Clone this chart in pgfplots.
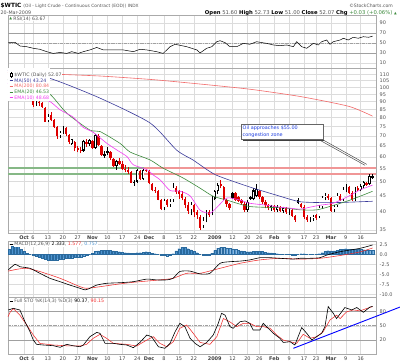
\documentclass[border=0pt]{standalone}
\usepackage{pgfplots}
\usepackage{pgfplotstable}
\pgfplotsset{compat=1.18}
\usepackage{fontspec}
\setmainfont{DejaVu Sans}

\definecolor{cred}{HTML}{DD0000}
\definecolor{ma50c}{HTML}{3A3A9A}
\definecolor{ma200c}{HTML}{F26A6A}
\definecolor{ema20c}{HTML}{3E8B3E}
\definecolor{ema10c}{HTML}{F23CF2}
\definecolor{gridc}{HTML}{DCDCDC}
\definecolor{framec}{HTML}{AAAAAA}
\definecolor{txt}{HTML}{555555}
\definecolor{histc}{HTML}{4D93CF}
\definecolor{histd}{HTML}{2A6A9E}
\definecolor{bandg}{HTML}{86B886}
\definecolor{bandr}{HTML}{F09696}
\definecolor{lvl}{HTML}{A0A0A0}
\definecolor{annb}{HTML}{1F3FE0}
\definecolor{sigc}{HTML}{F03030}

\newcommand{\fs}{\fontsize{5}{6}\selectfont}
\newcommand{\fl}{\fontsize{4.7}{5.5}\selectfont}

\pgfplotstableread{
i o h l c t
0 93 93.5 86.5 87.8 1
1 88 90.5 87.5 90.1 2
2 90 91 87 89 1
3 89 90 86 86.6 1
4 86 86.5 77.5 77.7 1
5 78 81.5 77.5 81.2 2
6 81.5 83.5 78 78.6 1
7 78.5 79 74 74.5 1
8 74.5 75 68.5 69.9 1
9 70 72.5 69 71.9 2
10 72 75 71 74.3 2
11 74 74.5 70 70.9 1
12 70.5 71 66 66.8 1
13 66.5 68.5 65.5 67.8 2
14 67 67.5 62.5 64.2 1
15 64 65 62 63.2 1
16 63 64.5 61.5 62.7 1
17 62.8 67.8 62.5 67.5 2
18 67 68.5 64.5 66 1
19 66 68.5 65 67.8 2
20 67.5 68 63.5 63.9 1
21 64 71 63.8 70.5 2
22 70 71 65 65.3 1
23 65 65.5 60.5 60.8 1
24 60.8 62.5 59.5 61 2
25 61.5 64.5 61 62.4 2
26 62 62.5 58.5 59.3 1
27 59 59.5 55.5 56.2 1
28 56 58.5 54.5 58.2 2
29 58 59.5 56.5 57 1
30 57 58 54.5 55 1
31 55 56.5 53.5 54.4 1
32 54.5 55.5 53 53.6 1
33 53.5 54 49.5 49.6 1
34 49.6 50.5 48.5 49.9 2
35 50 55 49.8 54.5 2
36 54 54.5 50.5 50.8 1
37 51 54.8 50.5 54.4 2
38 54.6 55 53.5 54.3 1
39 54 54.5 49 49.3 1
40 49 49.5 46.5 47 1
41 47 48 46 46.8 1
42 46.5 47 43.5 43.7 1
43 43.5 44 40.5 40.8 1
44 41 43.9 40.5 43.7 2
45 43.5 44 41.5 42.1 1
46 42 44 41.5 43.5 2
47 43.5 49.5 43.2 48 2
48 47.8 48.5 45.5 46.3 1
49 46.5 47 44 45.5 1
50 45.5 46.5 43.5 44.2 1
51 44 44.5 41 42 1
52 42 43 39.5 40.2 1
53 40.5 43 39 42.4 2
54 42 42.5 38.5 39.9 1
55 40 40.5 38 39 1
56 38.5 39 35 35.4 1
57 36 38.5 35.5 37.7 2
58 37.5 40.5 37 40 2
59 40 40.5 38.5 39 1
60 39.5 44.8 39 44.6 2
61 44.5 46.8 43.5 46.3 2
62 46.5 49.5 45.5 48.8 2
63 49 50.5 47.5 48.6 1
64 48 48.5 43.5 43.8 1
65 43.5 44 41.5 42.5 1
66 42.3 42.8 40.5 41.2 1
67 45.8 46.2 44 44.3 3
68 45.8 46.3 43.3 43.5 1
69 44.5 45 43 43.2 1
70 43.5 44 42.2 42.8 1
71 42.5 43 40 40.5 1
72 40.5 43.5 40 43 2
73 44.5 45 43.8 44 3
74 44 47.5 43.5 46.8 2
75 45 49 44.5 47.2 2
76 46.5 47 44 44.5 1
77 44.5 45 42.5 43 1
78 43 43.5 41 42 1
79 42 42.5 40.4 41 1
80 41 42.2 40.3 41.8 2
81 41.8 42 40 40.4 1
82 40.5 42 40 41.5 2
83 41.5 41.8 40 40.3 1
84 40.3 41.5 39.8 41.2 2
85 41 41.3 39.5 40 1
86 40 41 39.2 40.6 2
87 40.5 40.8 38.5 38.8 1
88 38.8 39.2 37.2 37.6 1
89 43.8 44.2 42.3 42.6 3
90 42.5 42.8 41 41.4 1
91 41.5 42 38 38.5 1
92 38.5 39 37.2 37.6 1
93 37.8 38.6 37 38.2 2
94 38 39.2 37.5 38.9 2
95 39 39.5 37.8 38.2 1
96 38.5 42 38.2 41.5 2
97 41.3 45 40.8 44.6 2
98 44.2 45.8 43.5 45.3 2
99 45 45.5 43.8 44.5 1
100 44.2 44.5 40 40.3 1
101 40.5 42 40 41.7 2
102 41.8 45.6 41.5 45.4 2
103 45 45.5 43.3 43.6 1
104 43.6 48 43.5 47.5 2
105 47 49.2 46.2 48.3 2
106 48 48.5 45.5 45.8 1
107 45.8 46.5 43.2 43.5 1
108 43.8 48 43.5 47.5 2
109 47.8 48.2 46.5 46.8 1
110 47 49 46.6 48.5 2
111 48.3 50 47.5 49.7 2
112 49.5 49.9 48.5 48.9 1
113 49 52.8 48.8 52.04 2
114 51.6 52.73 51 52.07 2
}\candles

\pgfplotstableread{
i h
-8 1.25
-7 2.0
-6 2.4
-5 2.1
-4 1.25
-3 0.7
-2 0.3
-1 0.0
0 -0.3
1 -0.55
2 -0.7
3 -1.0
4 -1.25
5 -1.4
6 -1.4
7 -1.4
8 -1.35
9 -1.25
10 -1.1
11 -1.05
12 -1.0
13 -0.85
14 -0.75
15 -0.7
16 -0.65
17 -0.4
18 -0.3
19 0.0
20 0.3
21 0.7
22 0.85
23 1.0
24 1.05
25 1.05
26 1.0
27 0.85
28 0.7
29 0.65
30 0.5
31 0.4
32 0.35
33 0.2
34 0.2
35 0.4
36 0.4
37 0.55
38 0.65
39 0.5
40 0.3
41 0.15
42 0.0
43 -0.2
44 -0.3
45 -0.35
46 -0.3
47 0.15
48 0.85
49 1.4
50 1.8
51 1.7
52 1.4
53 1.1
54 0.7
55 0.4
56 0.0
57 -0.15
58 -0.3
59 -0.3
60 0.3
61 1.0
62 1.55
63 1.8
64 1.75
65 1.6
66 1.45
67 1.35
68 1.2
69 1.0
70 0.85
71 0.7
72 0.65
73 0.65
74 0.7
75 0.75
76 0.75
77 0.7
78 0.55
79 0.4
80 0.35
81 0.2
82 0.15
83 0.07
84 0.0
85 -0.07
86 -0.07
87 -0.15
88 -0.2
89 0.0
90 0.15
91 0.15
92 0.0
93 -0.07
94 0.0
95 0.07
96 0.15
97 0.4
98 0.7
99 0.9
100 0.85
101 0.85
102 1.05
103 1.2
104 1.3
105 1.4
106 1.3
107 1.2
108 1.2
109 1.2
110 1.2
111 1.15
112 1.1
113 1.05
114 1.0
}\hist

\pgfplotsset{
  panel/.style={
    scale only axis, width=368bp,
    xmin=-8.39, xmax=115.14,
    axis line style={draw=framec, line width=0.6bp},
    major tick length=0pt, minor tick length=0pt,
    tick style={draw=none},
    xmajorgrids, ymajorgrids,
    major grid style={draw=gridc, line width=0.4bp},
    yticklabel pos=right,
    yticklabel style={font=\fs, text=txt, anchor=west, inner sep=0pt, xshift=3.5bp},
    xticklabel style={font=\fs, text=black!75, anchor=north, inner sep=0pt, yshift=-2.2bp},
    xtick={-3,0,5,10,15,20,25,30,35,39,44,49,54,61,67,72,76,81,86,91,95,100,105,110},
    xticklabels={},
    scaled y ticks=false,
  },
  datelabels/.style={xticklabels={\textbf{Oct},6,13,20,27,\textbf{Nov},10,17,24,\textbf{Dec},8,15,22,\textbf{2009},12,20,26,\textbf{Feb},9,17,23,\textbf{Mar},9,16}},
}

\begin{document}
\begin{tikzpicture}
\path[use as bounding box, fill=white] (0,0) rectangle (400bp,-363bp);

% ---------- RSI ----------
\begin{axis}[panel, at={(8bp,-15.5bp)}, anchor=north west, height=52.5bp,
  ymin=-0.4, ymax=105.4, ytick={10,30,50,70,90}, yticklabels={10,30,50,70,90}]
\draw[lvl, line width=0.5bp] (axis cs:-8.39,70) -- (axis cs:115.14,70);
\draw[lvl, line width=0.5bp] (axis cs:-8.39,30) -- (axis cs:115.14,30);
\draw[lvl, line width=0.5bp, dash pattern=on 3bp off 1bp on 0.8bp off 1bp] (axis cs:-8.39,50) -- (axis cs:115.14,50);
\addplot[black, line width=0.5bp] coordinates {(-8.3,50.6) (-6,51.4) (-4.4,44) (-2.1,42.5) (0.1,39.3) (2.3,37.3) (4.6,32.5) (6.8,29) (9.1,31) (11.3,29) (13,32.5) (15.2,29) (16.9,32.5) (19.1,36) (21.4,41) (23.6,36) (26.9,36) (30.3,36) (33.7,32.5) (35.9,37.3) (38.2,36) (41.5,32.5) (43.7,29) (46,42.5) (47.7,47.4) (51.6,42.5) (55,36) (56.1,30) (58.3,39.3) (60,42.5) (61.7,52.6) (62.8,54.6) (64.5,50.6) (66.1,42.5) (68.4,42.5) (70.6,49.3) (72.8,47.4) (75.1,52.6) (76.2,51.4) (78.4,49.3) (80.7,46) (82.9,44.6) (85.2,46) (87.4,42.5) (88.5,52.6) (90.2,42.5) (91.9,39.3) (94.1,49.3) (95.8,46) (96.9,52.6) (98.6,56) (99.7,47.4) (100.8,52.6) (103.1,56) (104.2,59.5) (105.8,56) (107.5,61.5) (109.2,59.5) (110.9,62.7) (112.6,61.5) (114,63.67)};
\end{axis}
\node[anchor=west, inner sep=0.3bp, fill=white, font=\fl, text=txt] at (13bp,-18.6bp) {RSI(14) 63.67};
\node[anchor=west, inner sep=0pt, font=\fontsize{3.6}{4}\selectfont, text=ema20c] at (9.3bp,-18.6bp) {▲};

% ---------- PRICE ----------
\begin{axis}[panel, datelabels, at={(8bp,-68bp)}, anchor=north west, height=165bp,
  ymode=log, ymin=34.24, ymax=115.2,
  ytick={35,40,45,50,55,60,65,70,75,80,85,90,95,100,105,110},
  yticklabels={35,40,45,50,55,60,65,70,75,80,85,90,95,100,105,110},
  minor y tick num=0]
% congestion bands
\addplot[bandg, line width=1.9bp] coordinates {(-8.39,55.4) (37.3,55.4)};
\addplot[bandg, line width=1.9bp] coordinates {(-8.39,53.0) (37.3,53.0)};
\addplot[bandr, line width=1.9bp] coordinates {(37.3,55.4) (115.14,55.4)};
\addplot[bandr, line width=1.9bp] coordinates {(37.3,53.0) (115.14,53.0)};
% wicks
\addplot[draw=none, restrict expr to domain={\thisrow{t}}{1:1},
  error bars/.cd, y dir=plus, y explicit, error mark=none,
  error bar style={draw=cred, line width=0.45bp}]
  table[x=i, y=l, y error plus expr=\thisrow{h}-\thisrow{l}] {\candles};
\addplot[draw=none, restrict expr to domain={\thisrow{t}}{2:3},
  error bars/.cd, y dir=plus, y explicit, error mark=none,
  error bar style={draw=black, line width=0.45bp}]
  table[x=i, y=l, y error plus expr=\thisrow{h}-\thisrow{l}] {\candles};
% red filled bodies
\addplot[draw=none, restrict expr to domain={\thisrow{t}}{1:1},
  error bars/.cd, y dir=both, y explicit, error mark=none,
  error bar style={draw=cred, line width=2.3bp}]
  table[x=i, y expr=(\thisrow{o}+\thisrow{c})/2, y error expr=abs(\thisrow{o}-\thisrow{c})/2] {\candles};
% black filled bodies
\addplot[draw=none, restrict expr to domain={\thisrow{t}}{3:3},
  error bars/.cd, y dir=both, y explicit, error mark=none,
  error bar style={draw=black, line width=2.3bp}]
  table[x=i, y expr=(\thisrow{o}+\thisrow{c})/2, y error expr=abs(\thisrow{o}-\thisrow{c})/2] {\candles};
% hollow bodies
\addplot[draw=none, restrict expr to domain={\thisrow{t}}{2:2},
  error bars/.cd, y dir=both, y explicit, error mark=none,
  error bar style={draw=black, line width=2.3bp}]
  table[x=i, y expr=(\thisrow{o}+\thisrow{c})/2, y error expr=abs(\thisrow{o}-\thisrow{c})/2] {\candles};
\addplot[draw=none, restrict expr to domain={\thisrow{t}}{2:2},
  error bars/.cd, y dir=both, y explicit, error mark=-,
  error mark options={draw=black, line width=0.4bp, mark size=1.15bp},
  error bar style={draw=white, line width=1.4bp}]
  table[x=i, y expr=(\thisrow{o}+\thisrow{c})/2, y error expr=abs(\thisrow{o}-\thisrow{c})/2] {\candles};
% moving averages
\addplot[ma200c, line width=0.6bp, smooth, tension=0.4] coordinates {(-8.4,111.5) (6,110.2) (22.5,108.6) (40,105.8) (56,102.4) (73,98.5) (90,93.3) (106,86.9) (114,80.84)};
\addplot[ma50c, line width=0.6bp, smooth, tension=0.4] coordinates {(-8.4,113) (5.7,106.7) (22.5,92.3) (39.3,76.9) (48.2,63.0) (53.7,58.6) (56.1,56.5) (61.5,52.4) (72.8,48.0) (81.8,45.2) (89.6,43.1) (98.7,42.8) (104.7,42.9) (114,43.24)};
\addplot[ema20c, line width=0.6bp, smooth, tension=0.4] coordinates {(-8.4,106) (0,100) (5.7,95) (11.3,82.7) (19.1,73.0) (22.5,72.2) (29.2,66.2) (32.6,62.1) (39.3,58.6) (43.6,55.2) (50.4,51.3) (56.1,47.6) (60.4,44.9) (65.1,43.6) (72.8,41.6) (83.9,41.2) (89.6,40.6) (95.3,40.6) (101.4,42.1) (106.4,43.6) (114,46.53)};
\addplot[ema10c, line width=0.6bp, smooth, tension=0.4] coordinates {(-8.4,103) (0,95) (5.7,90) (9.1,84.7) (13.4,80.4) (16.8,74.5) (20.1,71.9) (24.8,66.2) (28.2,63.0) (31.6,60.0) (33.6,56.6) (38.3,54.5) (40.3,52.5) (42.6,50.7) (46,46.8) (49.3,46.6) (52.7,45) (56.1,40.5) (59.4,39.6) (61.8,41.4) (65.1,44.3) (69.5,43.6) (72.8,42.6) (78.5,42.0) (82.9,41.4) (86.3,41.1) (89.6,40.8) (93,41.4) (96.3,42.0) (100.7,42.6) (105.4,44.6) (109.8,47.0) (114,48.68)};
\end{axis}

% price legend
\fill[white] (8.3bp,-68.3bp) rectangle (50bp,-100.5bp);
\draw[black, line width=0.35bp] (11bp,-72.3bp) -- (11bp,-77.7bp);
\filldraw[fill=white, draw=black, line width=0.35bp] (10bp,-73.5bp) rectangle (12bp,-76.3bp);
\node[anchor=west, inner sep=0.3bp, fill=white, font=\fl, text=txt] at (14bp,-75bp) {\$WTIC (Daily) 52.07};
\draw[ma50c, line width=0.7bp] (9.5bp,-80.7bp) -- (13.2bp,-80.7bp);
\node[anchor=west, inner sep=0.3bp, font=\fl, text=ma50c] at (14bp,-80.7bp) {MA(50) 43.24};
\draw[ma200c, line width=0.7bp] (9.5bp,-86.4bp) -- (13.2bp,-86.4bp);
\node[anchor=west, inner sep=0.3bp, font=\fl, text=ma200c] at (14bp,-86.4bp) {MA(200) 80.84};
\draw[ema20c, line width=0.7bp] (9.5bp,-92.1bp) -- (13.2bp,-92.1bp);
\node[anchor=west, inner sep=0.3bp, font=\fl, text=ema20c] at (14bp,-92.1bp) {EMA(20) 46.53};
\draw[ema10c, line width=0.7bp] (9.5bp,-97.8bp) -- (13.2bp,-97.8bp);
\node[anchor=west, inner sep=0.3bp, font=\fl, text=ema10c] at (14bp,-97.8bp) {EMA(10) 48.68};

% annotation
\draw[black!75, line width=0.45bp] (319.5bp,-140bp) -- (365bp,-165.3bp);
\draw[black!75, line width=0.45bp] (322.5bp,-139.6bp) -- (366.8bp,-164.4bp);
\fill[black!75] (242.5bp,-125.5bp) rectangle (324.3bp,-141bp);
\filldraw[fill=white, draw=black!60, line width=0.4bp] (241bp,-124bp) rectangle (323bp,-139.5bp);
\node[anchor=west, inner sep=0pt, font=\fontsize{4.9}{5.5}\selectfont, text=annb] at (242.5bp,-128.6bp) {Oil approaches \$55.00};
\node[anchor=west, inner sep=0pt, font=\fontsize{4.9}{5.5}\selectfont, text=annb] at (242.5bp,-135bp) {congestion zone};

% ---------- MACD ----------
\begin{axis}[panel, at={(8bp,-241bp)}, anchor=north west, height=56.5bp,
  ymin=-10.8, ymax=3.325, ytick={-10,-7.5,-5,-2.5,0,2.5},
  yticklabels={-10.0,-7.5,-5.0,-2.5,0.0,2.5}]
\addplot[ybar, bar width=2.1bp, bar shift=0pt, fill=histc, draw=histd, line width=0.2bp] table[x=i, y=h] {\hist};
\addplot[sigc, line width=0.55bp, smooth, tension=0.4] coordinates {(-8.4,-4.2) (-5,-3.7) (-2.1,-3.5) (2.3,-4.3) (9.1,-6) (15.8,-8.1) (18,-8.5) (22.5,-8.1) (28.1,-7.5) (33.6,-7) (42.6,-6.4) (47,-6) (51.6,-4.75) (56.1,-4.75) (62.8,-3.5) (69.5,-2.25) (76.2,-1.4) (82.9,-1.0) (89.6,-1.2) (96.3,-1.0) (103.1,-0.3) (109.8,0.6) (114,1.577)};
\addplot[black, line width=0.6bp, smooth, tension=0.4] coordinates {(-8.3,-3.9) (-6,-2.5) (-4.4,-3.1) (-1,-3.5) (2.3,-4.75) (5.7,-6) (9.1,-6.85) (12.4,-7.7) (15.8,-8.5) (17.5,-8.9) (19.1,-8.5) (21.4,-7.7) (24.7,-7.25) (29.2,-7.1) (33.6,-6.85) (38.2,-6.2) (41.5,-6.4) (44.9,-6.4) (47,-6) (49.3,-4.3) (52.7,-4.2) (56.1,-4.9) (59.4,-4.75) (62.8,-2.25) (66.1,-1.85) (69.5,-1.7) (72.8,-1.4) (76.2,-0.85) (79.6,-0.85) (82.9,-1.0) (87.4,-1.2) (89.6,-1.0) (93,-1.0) (96.3,-0.85) (98.6,-0.2) (103.1,0.65) (109.8,1.5) (114,2.333)};
\end{axis}
\draw[black, line width=0.7bp] (9.5bp,-244.3bp) -- (13.2bp,-244.3bp);
\node[anchor=west, inner sep=0.3bp, fill=white, font=\fl, text=txt] at (14bp,-244.3bp) {MACD(12,26,9) \textcolor{black}{2.333}, \textcolor{sigc}{1.577}, \textcolor{histc}{0.757}};

% ---------- STO ----------
\begin{axis}[panel, datelabels, at={(8bp,-297.5bp)}, anchor=north west, height=56.5bp,
  ymin=-9.2, ymax=109, ytick={20,50,80}, yticklabels={20,50,80}, clip=false]
\draw[lvl, line width=0.5bp] (axis cs:-8.39,80) -- (axis cs:115.14,80);
\draw[lvl, line width=0.5bp] (axis cs:-8.39,20) -- (axis cs:115.14,20);
\draw[lvl, line width=0.5bp, dash pattern=on 3bp off 1bp on 0.8bp off 1bp] (axis cs:-8.39,50) -- (axis cs:115.14,50);
\addplot[sigc, line width=0.55bp] coordinates {(-8.4,68.8) (-7.7,78) (-6.6,86) (-4.4,72) (-2.1,51.5) (0.1,30.5) (2.3,13) (6.8,9.6) (11.3,8) (15.8,7.5) (18,11) (20.2,23.6) (22.5,32) (24.7,23.6) (27,13) (31.5,11) (34.8,7.5) (38.2,20) (40.4,27) (42.6,13) (44.9,6) (47.1,16.5) (49.3,44.6) (51.6,51.5) (53.8,34) (56.1,15) (59.4,11) (61.7,27) (63.9,65) (66.1,58) (68.4,48) (70.6,55) (72.8,55) (75.1,48) (77.3,48) (79.6,44.6) (81.8,30.5) (84,20) (86.3,16.5) (88.5,13) (90.7,32) (93,23.6) (95.2,27) (97.4,37.4) (99.7,62) (101.9,72) (103.1,65) (105.3,79) (107.5,83) (109.8,81) (112,86) (114,90.15)};
\addplot[black, line width=0.6bp] coordinates {(-8.3,82.8) (-6.6,86.4) (-4.4,82.8) (-2.7,58.4) (-1,37.4) (0.1,20) (1.2,11) (3.5,9.6) (6.8,8.2) (9.1,4.8) (11.3,11) (13.5,8) (15.8,6) (16.9,9.6) (19.1,27) (21.4,36) (22.5,34) (24.2,13) (27,13) (29.2,11) (31.5,9.6) (33.7,4) (35.9,15) (38.2,30.5) (39.8,27) (42.1,6) (44.3,2.7) (46,13) (47.7,37.4) (49.3,55) (51,48) (52.7,24) (54.4,13) (56.1,6) (58.3,15) (60.5,30.5) (62.2,55) (63.3,76) (64.5,72) (66.1,48) (67.2,44.6) (69.5,58.4) (71.2,60) (72.8,55) (73.9,41) (76.2,41) (77.3,55) (78.4,48) (80.7,34) (82.9,23.6) (84,15) (86.3,16.5) (87.9,9.6) (90.2,46) (91.9,34) (93.6,20) (95.2,27) (96.9,34) (98,48) (99.1,90) (100.8,76) (101.9,65) (104.7,88) (107,83) (108.7,88) (110.9,78) (113.1,89) (114,90.37)};
\addplot[blue, line width=0.9bp] coordinates {(87.4,2.7) (123.2,89)};
\end{axis}
\draw[black, line width=0.7bp] (9.5bp,-301bp) -- (13.2bp,-301bp);
\node[anchor=west, inner sep=0.3bp, fill=white, font=\fl, text=txt] at (14bp,-301bp) {Full STO \%K(14,3) \%D(3) \textcolor{black}{90.37}, \textcolor{sigc}{90.15}};

% ---------- header ----------
\node[anchor=base west, inner sep=0pt] at (0.5bp,-7.3bp) {\fontsize{5.8}{6}\selectfont\bfseries \$WTIC\ \mdseries\fontsize{4.4}{5}\selectfont\color{txt} (Oil - Light Crude - Continuous Contract (EOD)) INDX};
\node[anchor=base west, inner sep=0pt, font=\fontsize{4.8}{5}\selectfont, text=txt] at (0.5bp,-14bp) {20-Mar-2009};
\node[anchor=base east, inner sep=0pt, font=\fontsize{4.6}{5}\selectfont, text=txt] at (393bp,-7bp) {©StockCharts.com};
\node[anchor=base east, inner sep=0pt, font=\fontsize{5.3}{6}\selectfont, text=txt] at (397bp,-14.5bp) {\textcolor{black}{\bfseries Open} 51.60 \textcolor{black}{\bfseries High} 52.73 \textcolor{black}{\bfseries Low} 51.00 \textcolor{black}{\bfseries Close} 52.07 \textcolor{black}{\bfseries Chg} \textcolor{ema20c}{+0.03 (+0.06\%)} {\fontsize{3.5}{4}\selectfont\textcolor{ema20c}{▲}}};
\end{tikzpicture}
\end{document}
